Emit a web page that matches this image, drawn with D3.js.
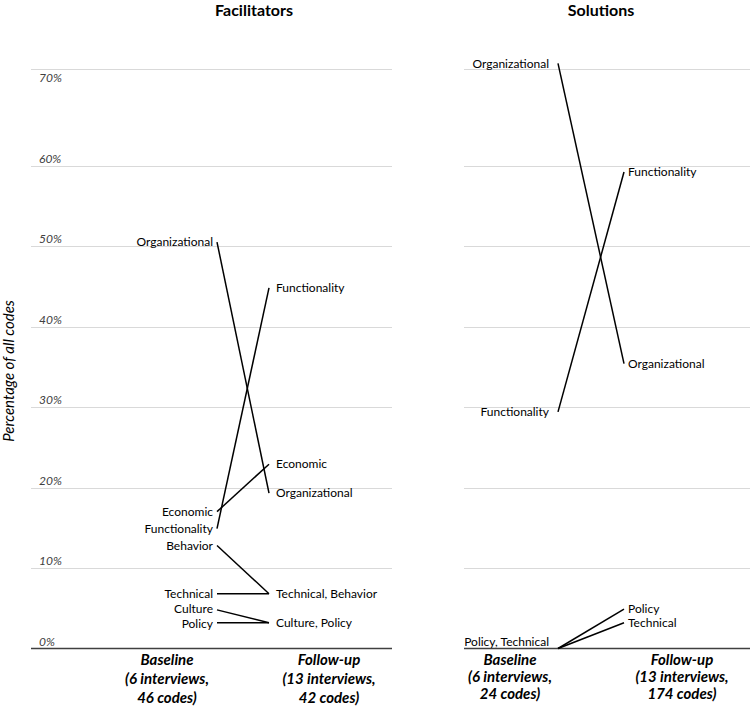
<!DOCTYPE html>
<html>
<head>
<meta charset="utf-8">
<script src="https://cdn.jsdelivr.net/npm/d3@7"></script>
<style>
  html, body { margin: 0; padding: 0; background: #fff; }
  svg { display: block; }
  text { font-family: Lato, "Open Sans", sans-serif; }
</style>
</head>
<body>
<svg id="chart" width="750" height="706"></svg>
<script>
// ---- data (percent of all codes) ----
const panelTitles = ["Facilitators", "Solutions"];
const periods = ["Baseline", "Follow-up"];
const facCategories = ["Organizational", "Functionality", "Economic", "Technical", "Behavior", "Culture", "Policy"];
const facBaseline   = [50.5, 14.9, 17.0, 6.8, 12.8, 4.8, 3.2];
const facFollowup   = [19.3, 44.8, 22.9, 6.8, 6.8, 3.2, 3.2];
const facPeriodLabels = [["Baseline", "(6 interviews,", "46 codes)"], ["Follow-up", "(13 interviews,", "42 codes)"]];
const solCategories = ["Organizational", "Functionality", "Policy", "Technical"];
const solBaseline   = [72.7, 29.4, 0, 0];
const solFollowup   = [35.4, 59.2, 4.9, 3.2];
const solPeriodLabels = [["Baseline", "(6 interviews,", "24 codes)"], ["Follow-up", "(13 interviews,", "174 codes)"]];
const tickValues = [0, 10, 20, 30, 40, 50, 60, 70];
const gridValues = [10, 20, 30, 40, 50, 60];
const yTitle = "Percentage of all codes";

// ---- layout ----
const svg = d3.select("#chart");
const y = d3.scaleLinear().domain([0, 72]).range([648.5, 69]);
const labelSize = 12;
const minGap = 14.5;

const panels = [
  { title: panelTitles[0], cats: facCategories, base: facBaseline, fol: facFollowup, plabels: facPeriodLabels,
    gx: [31, 392], pts: [217, 269], catCenters: [167, 329], titleX: 254, gapL: 4, gapR: 7, ticks: true, lh: 19 },
  { title: panelTitles[1], cats: solCategories, base: solBaseline, fol: solFollowup, plabels: solPeriodLabels,
    gx: [464, 750], pts: [558, 624], catCenters: [510, 682], titleX: 601, gapL: 9, gapR: 4, ticks: false, lh: 17 }
];

panels.forEach(p => {
  const g = svg.append("g");
  const x = d3.scalePoint().domain(periods).range(p.pts);

  // gridlines
  g.selectAll("line.grid").data(gridValues.concat([y.domain()[1]])).join("line")
    .attr("x1", p.gx[0]).attr("x2", p.gx[1])
    .attr("y1", d => Math.round(y(d)) + 0.5).attr("y2", d => Math.round(y(d)) + 0.5)
    .attr("stroke", "#d9d9d9").attr("stroke-width", 1);

  // baseline axis
  g.append("line")
    .attr("x1", p.gx[0]).attr("x2", p.gx[1])
    .attr("y1", y(0)).attr("y2", y(0))
    .attr("stroke", "#404040").attr("stroke-width", 1.3);

  // tick labels
  if (p.ticks) {
    g.selectAll("text.tick").data(tickValues).join("text")
      .attr("x", 39).attr("y", d => y(d) - 7)
      .attr("dy", "0.35em")
      .attr("font-size", 12).attr("font-style", "italic").attr("fill", "#404040")
      .text(d => d + "%");
  }

  // title
  g.append("text")
    .attr("x", p.titleX).attr("y", 16)
    .attr("text-anchor", "middle")
    .attr("font-size", 16).attr("font-weight", "bold").attr("fill", "#000")
    .text(p.title);

  // slope lines
  const rows = p.cats.map((c, i) => ({ cat: c, v: [p.base[i], p.fol[i]] }));
  g.selectAll("line.slope").data(rows).join("line")
    .attr("x1", x(periods[0])).attr("x2", x(periods[1]))
    .attr("y1", d => y(d.v[0])).attr("y2", d => y(d.v[1]))
    .attr("stroke", "#000").attr("stroke-width", 1.5);

  // point labels (grouped when values coincide, nudged apart when crowded)
  [0, 1].forEach(k => {
    const groups = d3.groups(rows, d => d.v[k])
      .map(([val, members]) => ({ ty: Math.min(y(val), y(0) - 7), text: members.map(m => m.cat).join(", ") }))
      .sort((a, b) => a.ty - b.ty);
    for (let i = 1; i < groups.length; i++) {
      const gap = groups[i].ty - groups[i - 1].ty;
      if (gap < minGap) {
        const push = (minGap - gap) / 2;
        groups[i - 1].ty -= push;
        groups[i].ty += push;
      }
    }
    groups.forEach(gr => {
      g.append("text")
        .attr("x", k === 0 ? x(periods[0]) - p.gapL : x(periods[1]) + p.gapR)
        .attr("y", gr.ty)
        .attr("dy", "0.35em")
        .attr("text-anchor", k === 0 ? "end" : "start")
        .attr("font-size", labelSize).attr("fill", "#000")
        .text(gr.text);
    });
  });

  // period labels
  p.plabels.forEach((lines, k) => {
    const t = g.append("text")
      .attr("x", p.catCenters[k]).attr("y", 660)
      .attr("text-anchor", "middle")
      .attr("font-size", 15).attr("font-weight", "bold").attr("font-style", "italic").attr("fill", "#000");
    lines.forEach((ln, j) => {
      t.append("tspan").attr("x", p.catCenters[k]).attr("y", 660 + j * p.lh).attr("dy", "0.35em").text(ln);
    });
  });
});

// y-axis title
svg.append("text")
  .attr("transform", "translate(9,371) rotate(-90)")
  .attr("text-anchor", "middle")
  .attr("dy", "0.35em")
  .attr("font-size", 15).attr("font-style", "italic").attr("fill", "#000")
  .text(yTitle);
</script>
</body>
</html>
